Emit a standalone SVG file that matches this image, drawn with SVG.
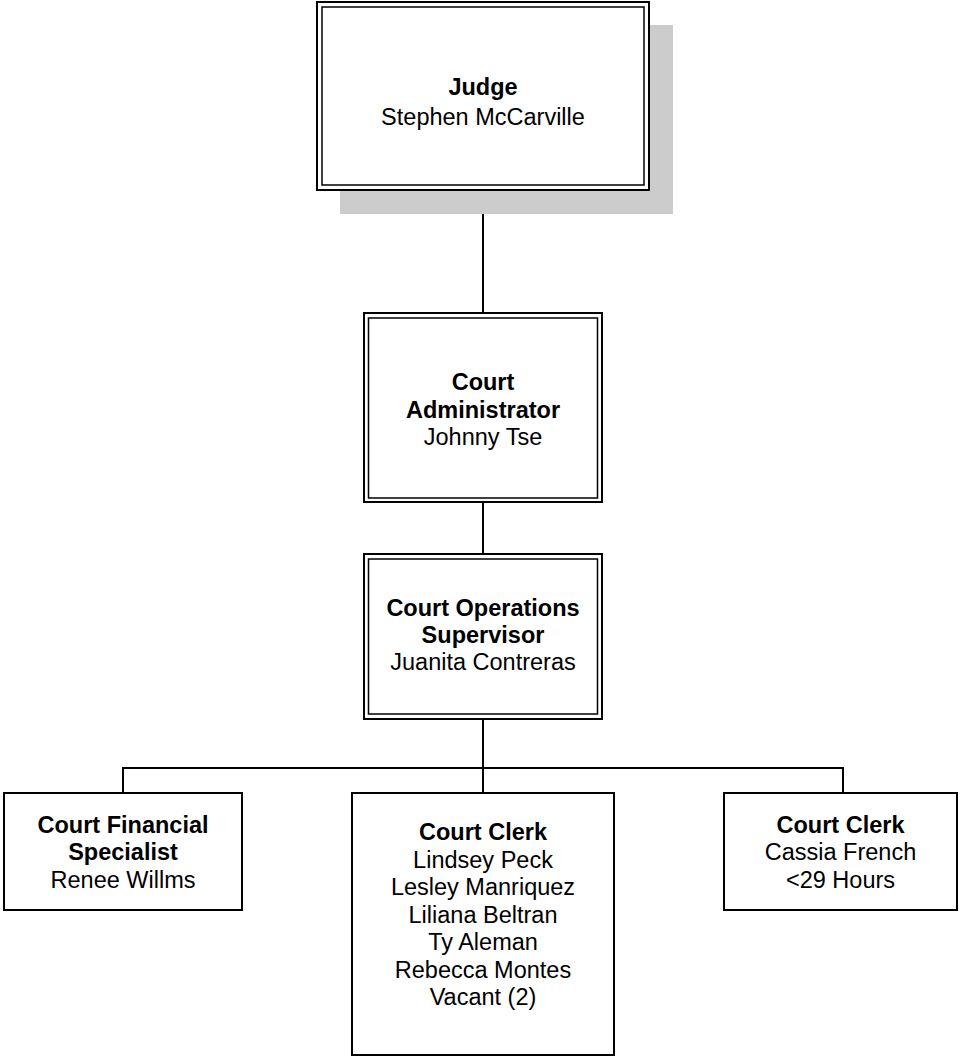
<svg xmlns="http://www.w3.org/2000/svg" width="961" height="1058" viewBox="0 0 961 1058">
  <style>
    .box { fill: #ffffff; stroke: #000000; stroke-width: 2; }
    .inner { fill: none; stroke: #000000; stroke-width: 1.5; }
    .shadow { fill: #cccccc; stroke: none; }
    .conn { fill: none; stroke: #000000; stroke-width: 2; }
    text { font-family: "Liberation Sans", Arial, sans-serif; font-size: 23.5px; fill: #000000; text-anchor: middle; }
    .b { font-weight: bold; }
  </style>
  <rect x="0" y="0" width="961" height="1058" fill="#ffffff"/>
  <g id="connectors">
    <line class="conn" x1="483" y1="190" x2="483" y2="313"/>
    <line class="conn" x1="483" y1="502" x2="483" y2="554"/>
    <line class="conn" x1="483" y1="719" x2="483" y2="768"/>
    <line class="conn" x1="122" y1="768" x2="844" y2="768"/>
    <line class="conn" x1="123" y1="768" x2="123" y2="793"/>
    <line class="conn" x1="483" y1="768" x2="483" y2="793"/>
    <line class="conn" x1="843" y1="768" x2="843" y2="793"/>
  </g>
  <g id="judge">
    <rect class="shadow" x="340" y="25" width="333" height="189"/>
    <rect class="box" x="317" y="2" width="332" height="188"/>
    <rect class="inner" x="322" y="7" width="322" height="178"/>
    <text x="483" y="95" class="b">Judge</text>
    <text x="483" y="125">Stephen McCarville</text>
  </g>
  <g id="court-administrator">
    <rect class="box" x="364" y="313" width="238" height="189"/>
    <rect class="inner" x="368.5" y="318" width="229" height="180"/>
    <text x="483" y="390" class="b">Court</text>
    <text x="483" y="418" class="b">Administrator</text>
    <text x="483" y="445">Johnny Tse</text>
  </g>
  <g id="court-operations-supervisor">
    <rect class="box" x="364" y="554" width="238" height="165"/>
    <rect class="inner" x="368.5" y="559" width="229" height="155"/>
    <text x="483" y="616" class="b">Court Operations</text>
    <text x="483" y="643" class="b">Supervisor</text>
    <text x="483" y="670">Juanita Contreras</text>
  </g>
  <g id="court-financial-specialist">
    <rect class="box" x="4" y="793" width="238" height="117"/>
    <text x="123" y="833" class="b">Court Financial</text>
    <text x="123" y="860" class="b">Specialist</text>
    <text x="123" y="888">Renee Willms</text>
  </g>
  <g id="court-clerk-main">
    <rect class="box" x="352" y="793" width="262" height="262"/>
    <text x="483" y="840" class="b">Court Clerk</text>
    <text x="483" y="867.5">Lindsey Peck</text>
    <text x="483" y="895">Lesley Manriquez</text>
    <text x="483" y="922.5">Liliana Beltran</text>
    <text x="483" y="950">Ty Aleman</text>
    <text x="483" y="977.5">Rebecca Montes</text>
    <text x="483" y="1005">Vacant (2)</text>
  </g>
  <g id="court-clerk-part-time">
    <rect class="box" x="724" y="793" width="233" height="117"/>
    <text x="840.5" y="833" class="b">Court Clerk</text>
    <text x="840.5" y="860">Cassia French</text>
    <text x="840.5" y="888">&lt;29 Hours</text>
  </g>
</svg>
